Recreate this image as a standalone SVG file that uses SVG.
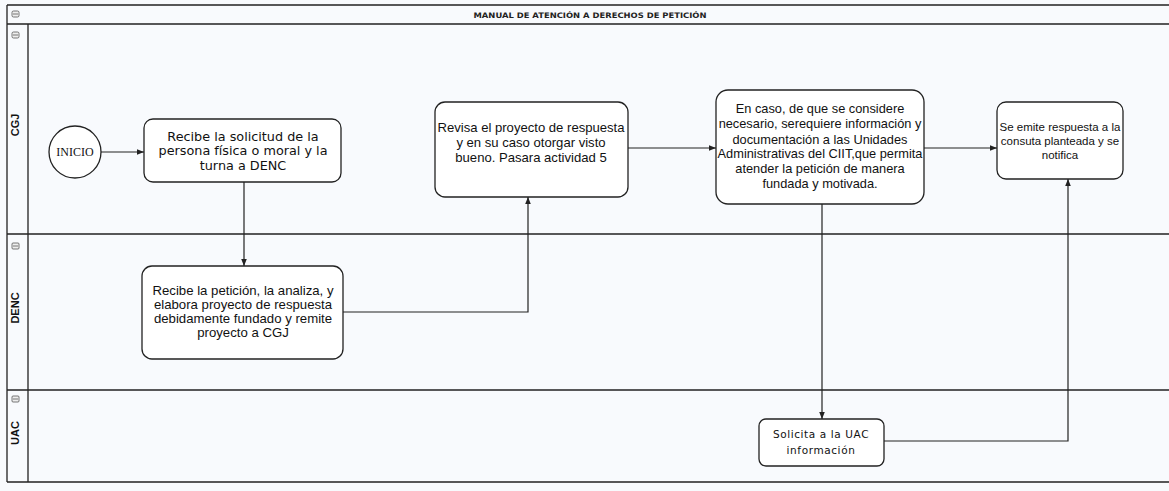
<svg xmlns="http://www.w3.org/2000/svg" width="1169" height="491" viewBox="0 0 1169 491">
<style>
.frame{fill:none;stroke:#222;stroke-width:1.3}
.box{fill:#fff;stroke:#222;stroke-width:1.3}
.t{font-family:"Liberation Sans",Arial,sans-serif;fill:#111;text-anchor:middle}
.v{font-family:"DejaVu Sans",Verdana,sans-serif;fill:#111;text-anchor:middle}
.lane{font-family:"Liberation Sans",Arial,sans-serif;font-size:11px;font-weight:bold;fill:#111;text-anchor:middle}
.conn{fill:none;stroke:#222;stroke-width:1.2}
.ico{fill:#eee;stroke:#555;stroke-width:0.8}
</style>
<defs>
<marker id="ah" viewBox="0 0 10 10" refX="10" refY="5" markerWidth="7" markerHeight="7" orient="auto" markerUnits="userSpaceOnUse">
<path d="M0,1 L10,5 L0,9 Z" fill="#222"/>
</marker>
</defs>
<rect x="0" y="0" width="1169" height="491" fill="#f8fafd"/>
<g id="pool">
<path class="frame" d="M7,5 H1169 M7,24 H1169 M7,234 H1169 M7,390 H1169 M7,482 H1169 M7,5 V482 M28,24 V482"/>
<text x="590" y="18" font-family="DejaVu Sans,Verdana,sans-serif" font-size="7.5" font-weight="bold" fill="#222" text-anchor="middle" textLength="233" lengthAdjust="spacingAndGlyphs">MANUAL DE ATENCIÓN A DERECHOS DE PETICIÓN</text>
<rect class="ico" x="12" y="11" width="7" height="6" rx="1.5"/><line x1="13" y1="14" x2="18" y2="14" stroke="#555" stroke-width="0.8"/>
</g>
<g id="lane-cgj">
<rect class="ico" x="12" y="32" width="7" height="6" rx="1.5"/><line x1="13" y1="35" x2="18" y2="35" stroke="#555" stroke-width="0.8"/>
<text class="lane" transform="translate(19,125) rotate(-90)">CGJ</text>
</g>
<g id="lane-denc">
<rect class="ico" x="12" y="243" width="7" height="6" rx="1"/><line x1="13" y1="246" x2="18" y2="246" stroke="#555" stroke-width="0.8"/>
<text class="lane" transform="translate(19,308) rotate(-90)">DENC</text>
</g>
<g id="lane-uac">
<rect class="ico" x="12" y="396" width="7" height="6" rx="1"/><line x1="13" y1="399" x2="18" y2="399" stroke="#555" stroke-width="0.8"/>
<text class="lane" transform="translate(19,433) rotate(-90)">UAC</text>
</g>
<g id="connectors">
<path class="conn" d="M101,152 H144" marker-end="url(#ah)"/>
<path class="conn" d="M244,182 V266" marker-end="url(#ah)"/>
<path class="conn" d="M343,312 H528 V197" marker-end="url(#ah)"/>
<path class="conn" d="M628,148 H716" marker-end="url(#ah)"/>
<path class="conn" d="M924,148 H997" marker-end="url(#ah)"/>
<path class="conn" d="M822,204 V419" marker-end="url(#ah)"/>
<path class="conn" d="M884,441 H1068 V179" marker-end="url(#ah)"/>
</g>
<g id="inicio">
<circle class="box" cx="75" cy="152" r="26"/>
<text x="75" y="156" font-family="Liberation Serif,Times New Roman,serif" font-size="12" fill="#111" text-anchor="middle">INICIO</text>
</g>
<g id="n1">
<rect class="box" x="144" y="119" width="197" height="63" rx="9"/>
<text class="v" font-size="12.8"><tspan x="243" y="141">Recibe la solicitud de la</tspan><tspan x="243" y="155">persona física o moral y la</tspan><tspan x="243" y="170">turna a DENC</tspan></text>
</g>
<g id="n2">
<rect class="box" x="142" y="266" width="201" height="93" rx="10"/>
<text class="t" font-size="13.2"><tspan x="243" y="295">Recibe la petición, la analiza, y</tspan><tspan x="243" y="309">elabora proyecto de respuesta</tspan><tspan x="243" y="323">debidamente fundado y remite</tspan><tspan x="243" y="337">proyecto a CGJ</tspan></text>
</g>
<g id="n3">
<rect class="box" x="435" y="102" width="193" height="95" rx="10"/>
<text class="t" font-size="13.1"><tspan x="531" y="132">Revisa el proyecto de respuesta</tspan><tspan x="531" y="147">y en su caso otorgar visto</tspan><tspan x="531" y="162">bueno. Pasara actividad 5</tspan></text>
</g>
<g id="n4">
<rect class="box" x="716" y="90" width="208" height="114" rx="12"/>
<text class="t" font-size="12.8"><tspan x="820" y="113">En caso, de que se considere</tspan><tspan x="820" y="128">necesario, serequiere información y</tspan><tspan x="820" y="144">documentación a las Unidades</tspan><tspan x="820" y="158">Administrativas del CIIT,que permita</tspan><tspan x="820" y="173">atender la petición de manera</tspan><tspan x="820" y="188">fundada y motivada.</tspan></text>
</g>
<g id="n5">
<rect class="box" x="997" y="102" width="126" height="77" rx="9"/>
<text class="t" font-size="11.5"><tspan x="1060" y="131">Se emite respuesta a la</tspan><tspan x="1060" y="145">consuta planteada y se</tspan><tspan x="1060" y="159">notifica</tspan></text>
</g>
<g id="n6">
<rect class="box" x="759" y="419" width="125" height="47" rx="7"/>
<text class="v" font-size="10.5" letter-spacing="0.6"><tspan x="821" y="438">Solicita a la UAC</tspan><tspan x="821" y="454">información</tspan></text>
</g>
</svg>
